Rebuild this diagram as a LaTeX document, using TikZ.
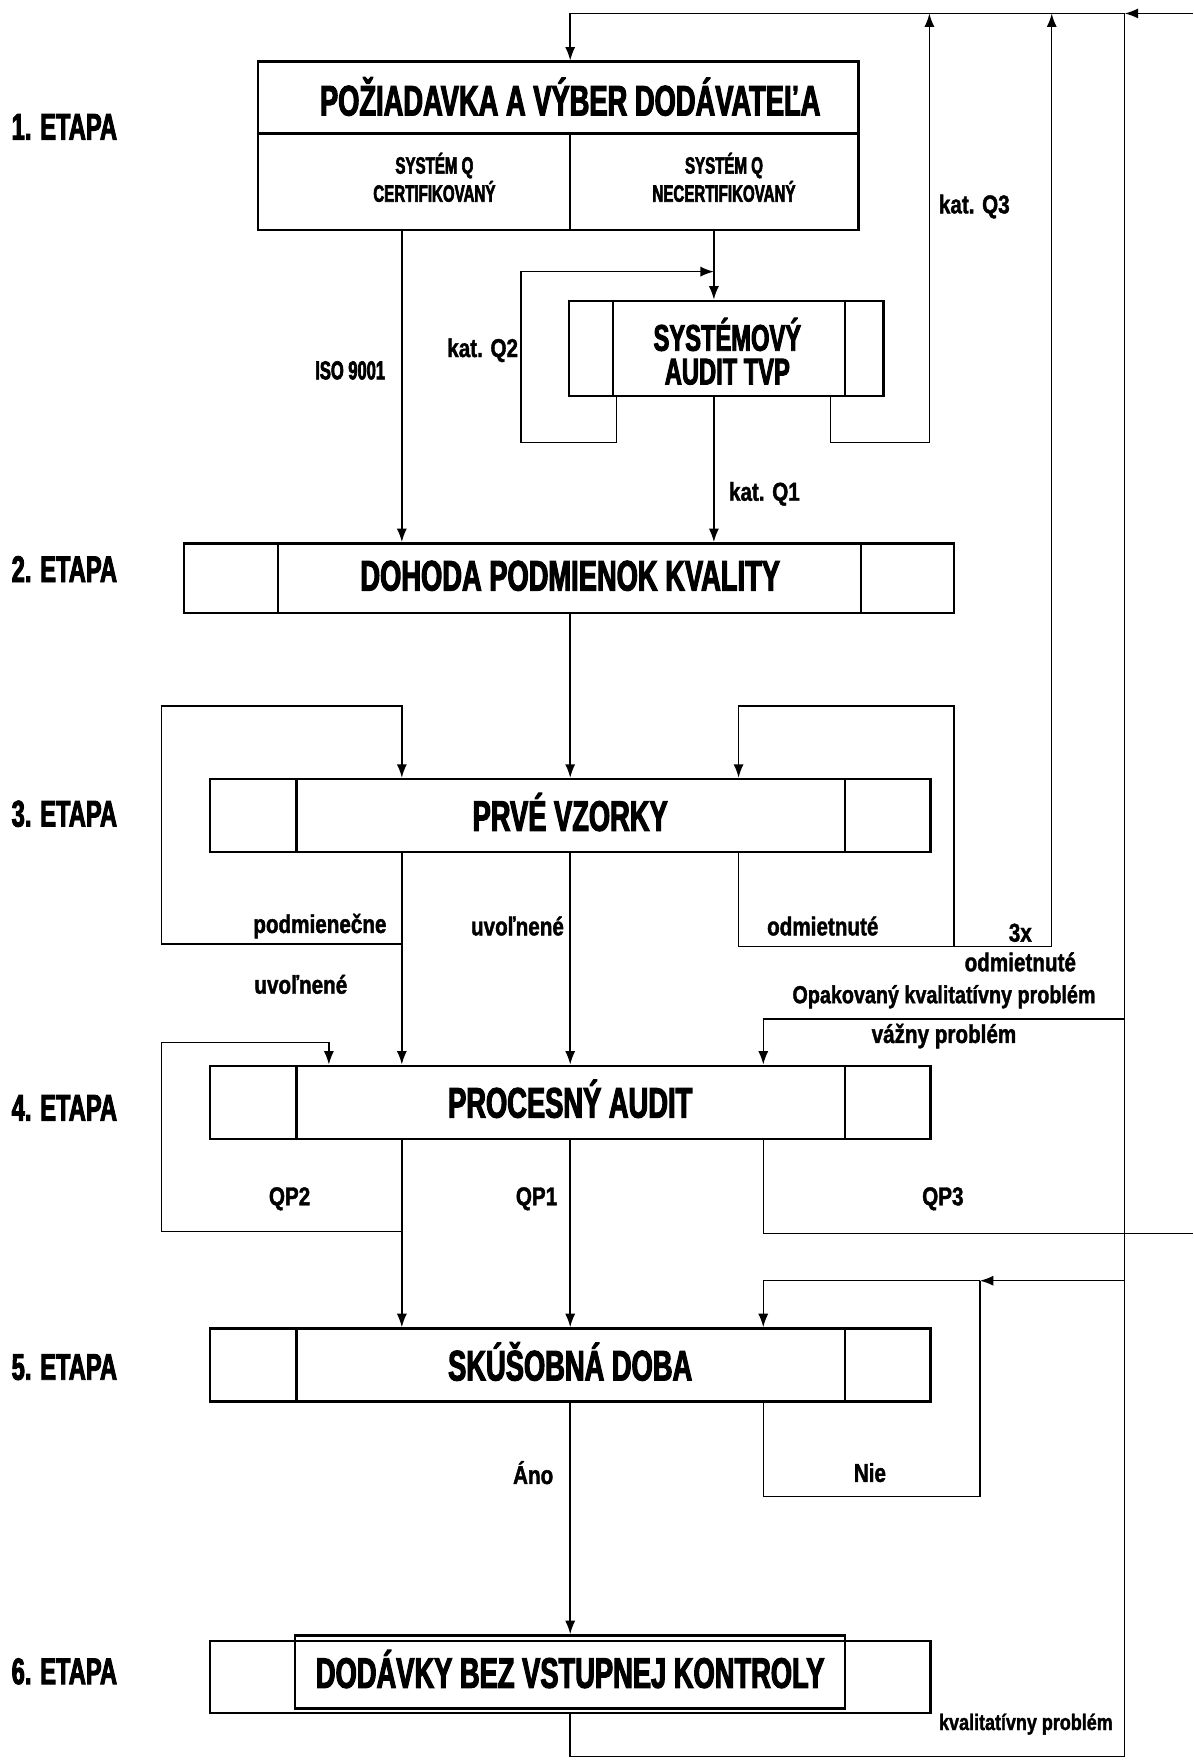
\documentclass[tikz,border=0pt]{standalone}
\usepackage{fontspec}
\newfontfamily\imp[FakeStretch=0.64, FakeBold=2.5]{Liberation Sans}
\newfontfamily\impl[FakeStretch=0.80, FakeBold=1.5]{Liberation Sans}
\usetikzlibrary{arrows.meta,calc}
\begin{document}
\begin{tikzpicture}[x=0.5pt,y=-0.5pt,
  box/.style={draw, line width=1.1pt, rectangle, inner sep=0pt},
  boxline/.style={line width=1.1pt},
  title/.style={font=\imp\bfseries\fontsize{19}{21}\selectfont, inner sep=0pt},
  sub/.style={font=\imp\bfseries\fontsize{10.5}{12.5}\selectfont, align=center, inner sep=0pt},
  etapa/.style={anchor=west, font=\imp\bfseries\fontsize{16.5}{18}\selectfont, inner sep=0pt},
  lbl/.style={font=\impl\bfseries\fontsize{11.5}{13}\selectfont, inner sep=0pt},
  conn/.style={line width=0.65pt},
  arr/.style={conn, -{Latex[length=6pt,width=4.5pt]}}]
\useasboundingbox (0,0) rectangle (1063,1568);

% x positions
\coordinate (xL) at (358,0);
\coordinate (xM) at (508,0);
\coordinate (xA) at (636,0);
\coordinate (xO) at (658,0);
\coordinate (xR) at (680,0);
\coordinate (xP) at (293,0);
\coordinate (xi1) at (264,0);
\coordinate (xi2) at (753,0);
\coordinate (xa1) at (546,0);
\coordinate (xb1) at (247.5,0);
\coordinate (xb2) at (767,0);
\coordinate (yd1) at (0,119);

% stage labels
\node[etapa] (e1) at (10,113) {1. ETAPA};
\node[etapa] (e2) at (10,507) {2. ETAPA};
\node[etapa] (e3) at (10,725) {3. ETAPA};
\node[etapa] (e4) at (10,987) {4. ETAPA};
\node[etapa] (e5) at (10,1218) {5. ETAPA};
\node[etapa] (e6) at (10,1489) {6. ETAPA};

% box 1
\node[box, minimum width=267.5pt, minimum height=75pt] (b1) at (497.5,130) {};
\node[title] (b1t) at (508,86) {POŽIADAVKA A VÝBER DODÁVATEĽA};
\draw[boxline] (b1.west |- yd1) -- (b1.east |- yd1);
\draw[boxline] (xM |- yd1) -- (b1.south -| xM);
\node[sub] (b1l) at (387,158) {SYSTÉM Q\\CERTIFIKOVANÝ};
\node[sub] (b1r) at (645,158) {SYSTÉM Q\\NECERTIFIKOVANÝ};

% audit box
\node[box, minimum width=140pt, minimum height=42.5pt] (aud) at (647,310.5) {};
\draw[boxline] (aud.north -| xa1) -- (aud.south -| xa1);
\draw[boxline] (aud.north -| xi2) -- (aud.south -| xi2);
\node[title, font=\imp\bfseries\fontsize{16.5}{15}\selectfont, align=center] (audt) at (648,313) {SYSTÉMOVÝ\\AUDIT TVP};

% box 2
\node[box, minimum width=343pt, minimum height=31pt] (b2) at (507,515) {};
\draw[boxline] (b2.north -| xb1) -- (b2.south -| xb1);
\draw[boxline] (b2.north -| xb2) -- (b2.south -| xb2);
\node[title] (b2t) at (508,513) {DOHODA PODMIENOK KVALITY};

% boxes 3-5
\foreach \n/\y/\t in {b3/726.5/PRVÉ VZORKY, b4/982/PROCESNÝ AUDIT, b5/1216/SKÚŠOBNÁ DOBA}{
  \node[box, minimum width=321pt, minimum height=32.5pt] (\n) at (508,\y) {};
  \draw[boxline] (\n.north -| xi1) -- (\n.south -| xi1);
  \draw[boxline] (\n.north -| xi2) -- (\n.south -| xi2);
  \node[title] (\n t) at (508,\y-3) {\t};
}

% box 6
\node[box, minimum width=321pt, minimum height=32pt] (b6) at (508,1494) {};
\node[box, minimum width=245pt, minimum height=32.5pt] (b6i) at (508,1489.5) {};
\node[title] (b6t) at (508,1487) {DODÁVKY BEZ VSTUPNEJ KONTROLY};

% top line and right return
\coordinate (tr) at (1063,12);
\coordinate (tj) at (1002,12);
\coordinate (tl) at (508,12);
\draw[arr] (tr) -- (tj);
\draw[arr] (tj) -- (tl) -- (b1.north -| tl);
\draw[conn] (b6.south -| xM) -- (508,1565) -- (1002,1565) -- (tj);

% stage 1 connections
\draw[arr] (b1.south -| xL) -- (b2.north -| xL);
\draw[arr] (b1.south -| xA) -- (aud.north -| xA);
\draw[arr] (aud.south -| 549,0) -- (549,394) -- (464,394) -- (464,242) -- (636,242);
\draw[arr] (aud.south -| xA) -- (b2.north -| xA);
\draw[arr] (aud.south -| 740,0) -- (740,394) -- (828,394) -- (828,12);

% stage 2 -> 3
\draw[arr] (b2.south -| xM) -- (b3.north -| xM);

% stage 3
\draw[arr] (b3.south -| xL) -- (b4.north -| xL);
\draw[arr] (358,841) -- (144,841) -- (144,629) -- (358,629) -- (b3.north -| xL);
\draw[arr] (b3.south -| xM) -- (b4.north -| xM);
\draw[arr] (b3.south -| xO) -- (658,843) -- (937,843) -- (937,12);
\draw[arr] (850,843) -- (850,629) -- (658,629) -- (b3.north -| xO);
\draw[arr] (1002,908) -- (680,908) -- (b4.north -| xR);

% stage 4
\draw[arr] (b4.south -| xL) -- (b5.north -| xL);
\draw[arr] (358,1097) -- (144,1097) -- (144,929) -- (293,929) -- (b4.north -| xP);
\draw[arr] (b4.south -| xM) -- (b5.north -| xM);
\draw[conn] (b4.south -| xR) -- (680,1099) -- (1063,1099);

% stage 5
\draw[arr] (1002,1141) -- (873,1141);
\draw[arr] (873,1141) -- (680,1141) -- (b5.north -| xR);
\draw[conn] (b5.south -| xR) -- (680,1333) -- (873,1333) -- (873,1141);
\draw[arr] (b5.south -| xM) -- (b6i.north -| xM);

% labels
\node[lbl, font=\imp\bfseries\fontsize{11.5}{13}\selectfont] (lIso) at (312,330) {ISO 9001};
\node[lbl] (lQ2) at (430,312) {kat. Q2};
\node[lbl] (lQ3) at (868,184) {kat. Q3};
\node[lbl] (lQ1) at (681,440) {kat. Q1};
\node[lbl] (lpod) at (285,825) {podmienečne};
\node[lbl] (luv1) at (268,877) {uvoľnené};
\node[lbl] (luv2) at (461,825) {uvoľnené};
\node[lbl] (lodm) at (733,825) {odmietnuté};
\node[lbl] (l3x) at (909,831) {3x};
\node[lbl] (lodm2) at (909,857) {odmietnuté};
\node[lbl, font=\impl\bfseries\fontsize{11}{13}\selectfont] (lopak) at (841,888) {Opakovaný kvalitatívny problém};
\node[lbl] (lvaz) at (841,923) {vážny problém};
\node[lbl] (lqp2) at (258,1068) {QP2};
\node[lbl] (lqp1) at (478,1068) {QP1};
\node[lbl] (lqp3) at (840,1068) {QP3};
\node[lbl] (lano) at (475,1312) {Áno};
\node[lbl] (lnie) at (775,1312) {Nie};
\node[lbl, font=\impl\bfseries\fontsize{10}{12}\selectfont] (lkp) at (914,1536) {kvalitatívny problém};
\end{tikzpicture}
\end{document}
